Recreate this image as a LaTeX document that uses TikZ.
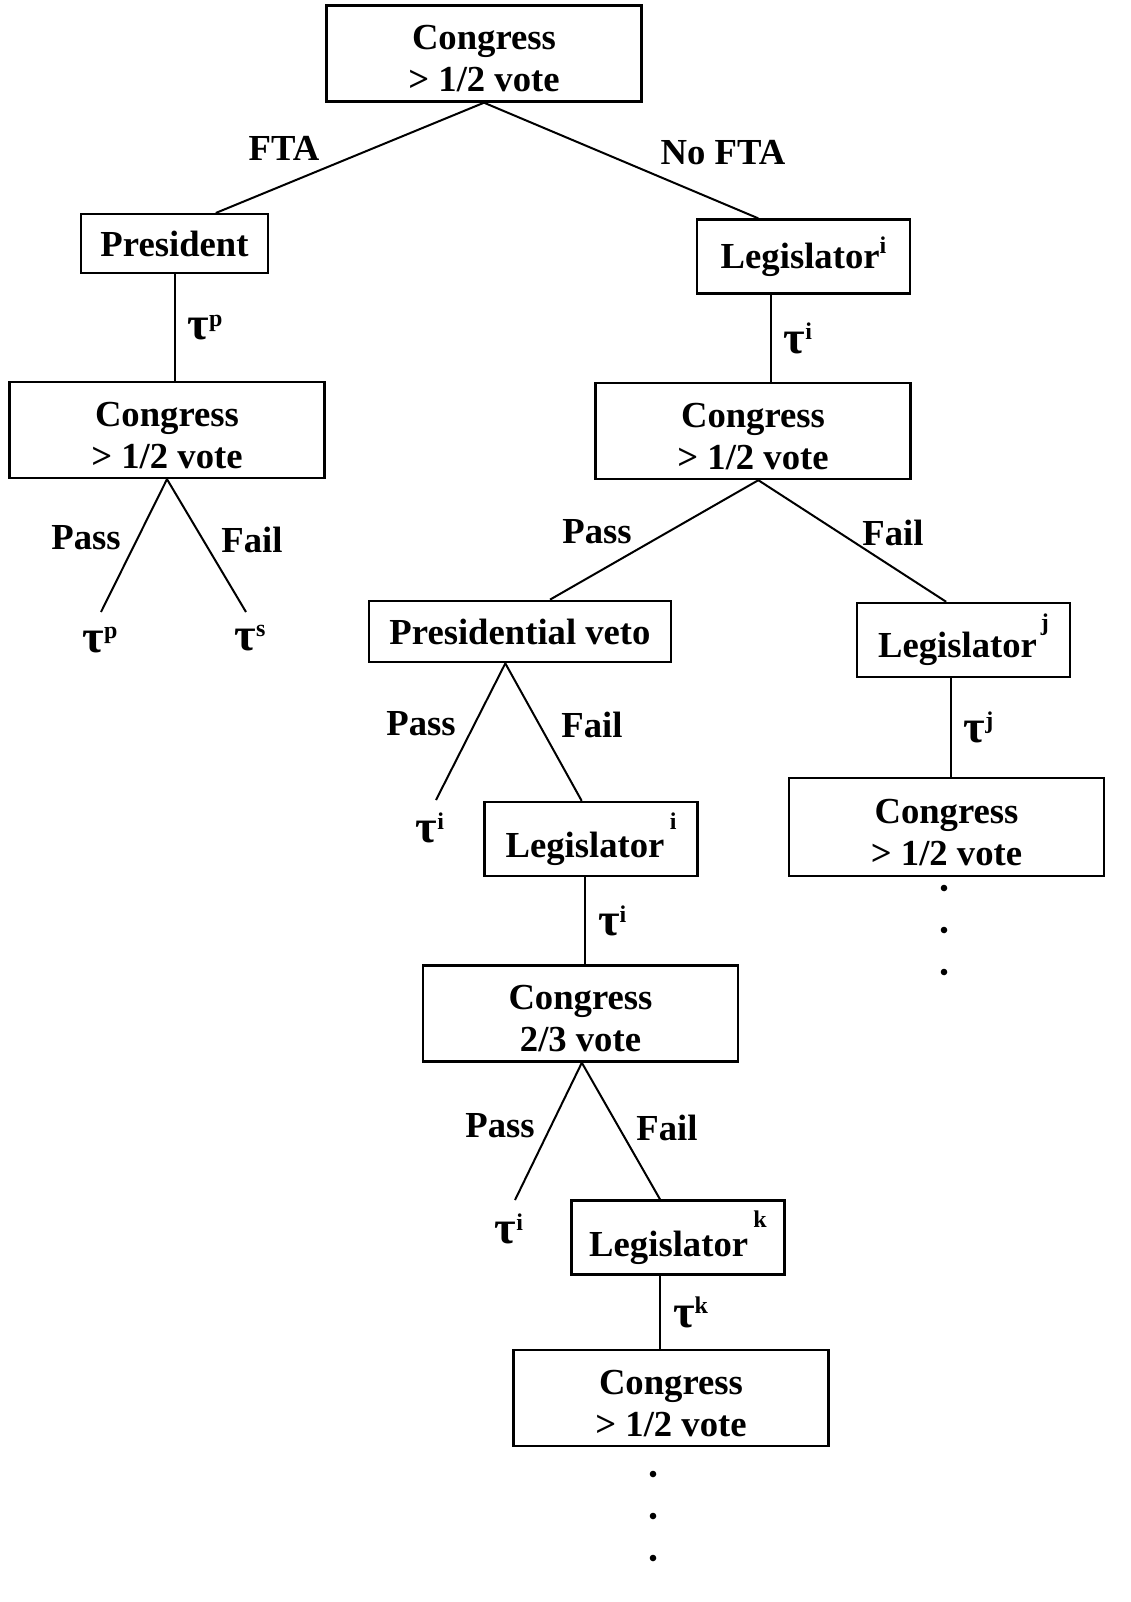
\documentclass[tikz,border=0pt]{standalone}
\usepackage{fontspec}
\setmainfont{Liberation Serif}

\newcommand{\tsup}[2][10pt]{\raisebox{#1}{\fontsize{18}{18}\selectfont #2}}
\newcommand{\tauB}{{\fontsize{35}{35}\selectfont τ}}
\newcommand{\tp}{\rule{0pt}{26pt}}

\tikzset{every picture/.style={line width=1.5pt}}
\tikzset{
  txt/.style={font=\bfseries\fontsize{27.5}{31.5}\selectfont, inner sep=0pt},
  box/.style={txt, draw, line width=1.8pt, align=center},
  cbox/.style={box, minimum width=236pt, minimum height=72pt},
  lbox/.style={box, minimum width=160pt, minimum height=55.5pt},
}

\begin{document}
\begin{tikzpicture}[x=0.75pt,y=0.75pt,yscale=-1,xscale=1]
\useasboundingbox (0,0) rectangle (1131,1602);

% Boxes
\node[cbox] (top) at (484,53.5) {\tp Congress\\> 1/2 vote};
\node[box, minimum width=140pt, minimum height=44pt] (pres) at (174.5,243.5) {President};
\node[cbox] (congL) at (167,430) {\tp Congress\\> 1/2 vote};
\node[lbox] (legI) at (803.5,256.5) {Legislator\tsup[11pt]{i}};
\node[cbox] (congR) at (753,431) {\tp Congress\\> 1/2 vote};
\node[box, minimum width=226.5pt, minimum height=46pt] (veto) at (520,631.5) {Presidential veto};
\node[lbox] (legJ) at (963.5,640) {Legislator\hspace{3pt}\tsup[20pt]{j}};
\node[cbox, minimum height=73.5pt] (congJ) at (946.5,827) {\tp Congress\\> 1/2 vote};
\node[lbox] (legIb) at (591,839) {Legislator\hspace{4pt}\tsup[21pt]{i}};
\node[cbox] (congT) at (580.5,1013.5) {\tp Congress\\2/3 vote};
\node[lbox] (legK) at (678,1237.5) {Legislator\hspace{4pt}\tsup[22pt]{k}};
\node[cbox] (congB) at (671,1398) {\tp Congress\\> 1/2 vote};

% Leaves
\coordinate (eP) at (101,612);
\coordinate (eS) at (246,612);
\coordinate (eV) at (436,800);
\coordinate (eT) at (515,1200);
\node[txt] (lfP) at (100,640) {\tauB\tsup{p}};
\node[txt] (lfS) at (250,638) {\tauB\tsup{s}};
\node[txt] (lfV) at (430,828) {\tauB\tsup{i}};
\node[txt] (lfT) at (509,1229) {\tauB\tsup{i}};

% Straight Lines
\draw (top.south) -- ([xshift=31pt]pres.north);
\draw (top.south) -- ([xshift=-34pt]legI.north);
\draw (pres.south) -- node[txt, right=9pt] (tauP) {\tauB\tsup{p}} (pres.south |- congL.north);
\draw (congL.south) -- (eP);
\draw (congL.south) -- (eS);
\draw ([xshift=-24.5pt]legI.south) -- node[txt, right=9pt] (tauI) {\tauB\tsup{i}} ([xshift=-24.5pt]legI.south |- congR.north);
\draw ([xshift=4pt]congR.south) -- ([xshift=22.5pt]veto.north);
\draw ([xshift=4pt]congR.south) -- ([xshift=-13pt]legJ.north);
\draw ([xshift=-9.4pt]legJ.south) -- node[txt, right=9pt] (tauJ) {\tauB\tsup{j}} ([xshift=-9.4pt]legJ.south |- congJ.north);
\draw ([xshift=-11pt]veto.south) -- (eV);
\draw ([xshift=-11pt]veto.south) -- ([xshift=-7pt]legIb.north);
\draw ([xshift=-4.5pt]legIb.south) -- node[txt, right=9pt] (tauIb) {\tauB\tsup{i}} ([xshift=-4.5pt]legIb.south |- congT.north);
\draw ([xshift=1pt]congT.south) -- (eT);
\draw ([xshift=1pt]congT.south) -- ([xshift=-13.5pt]legK.north);
\draw ([xshift=-13.5pt]legK.south) -- node[txt, right=9pt] (tauK) {\tauB\tsup{k}} ([xshift=-13.5pt]legK.south |- congB.north);

% Text Node
\node[txt] (fta) at (284,148) {FTA};
\node[txt] (nofta) at (723,153) {No FTA};
\node[txt] (passL) at (86,538) {Pass};
\node[txt] (failL) at (252,540) {Fail};
\node[txt] (passR) at (597,532) {Pass};
\node[txt] (failR) at (893,533) {Fail};
\node[txt] (passV) at (421,724) {Pass};
\node[txt] (failV) at (592,725) {Fail};
\node[txt] (passT) at (500,1126) {Pass};
\node[txt] (failT) at (667,1128) {Fail};

% Dots
\foreach \y in {888,930,972} \fill (944,\y) circle (3.3);
\foreach \y in {1474,1516,1558} \fill (653,\y) circle (3.3);

\end{tikzpicture}
\end{document}
